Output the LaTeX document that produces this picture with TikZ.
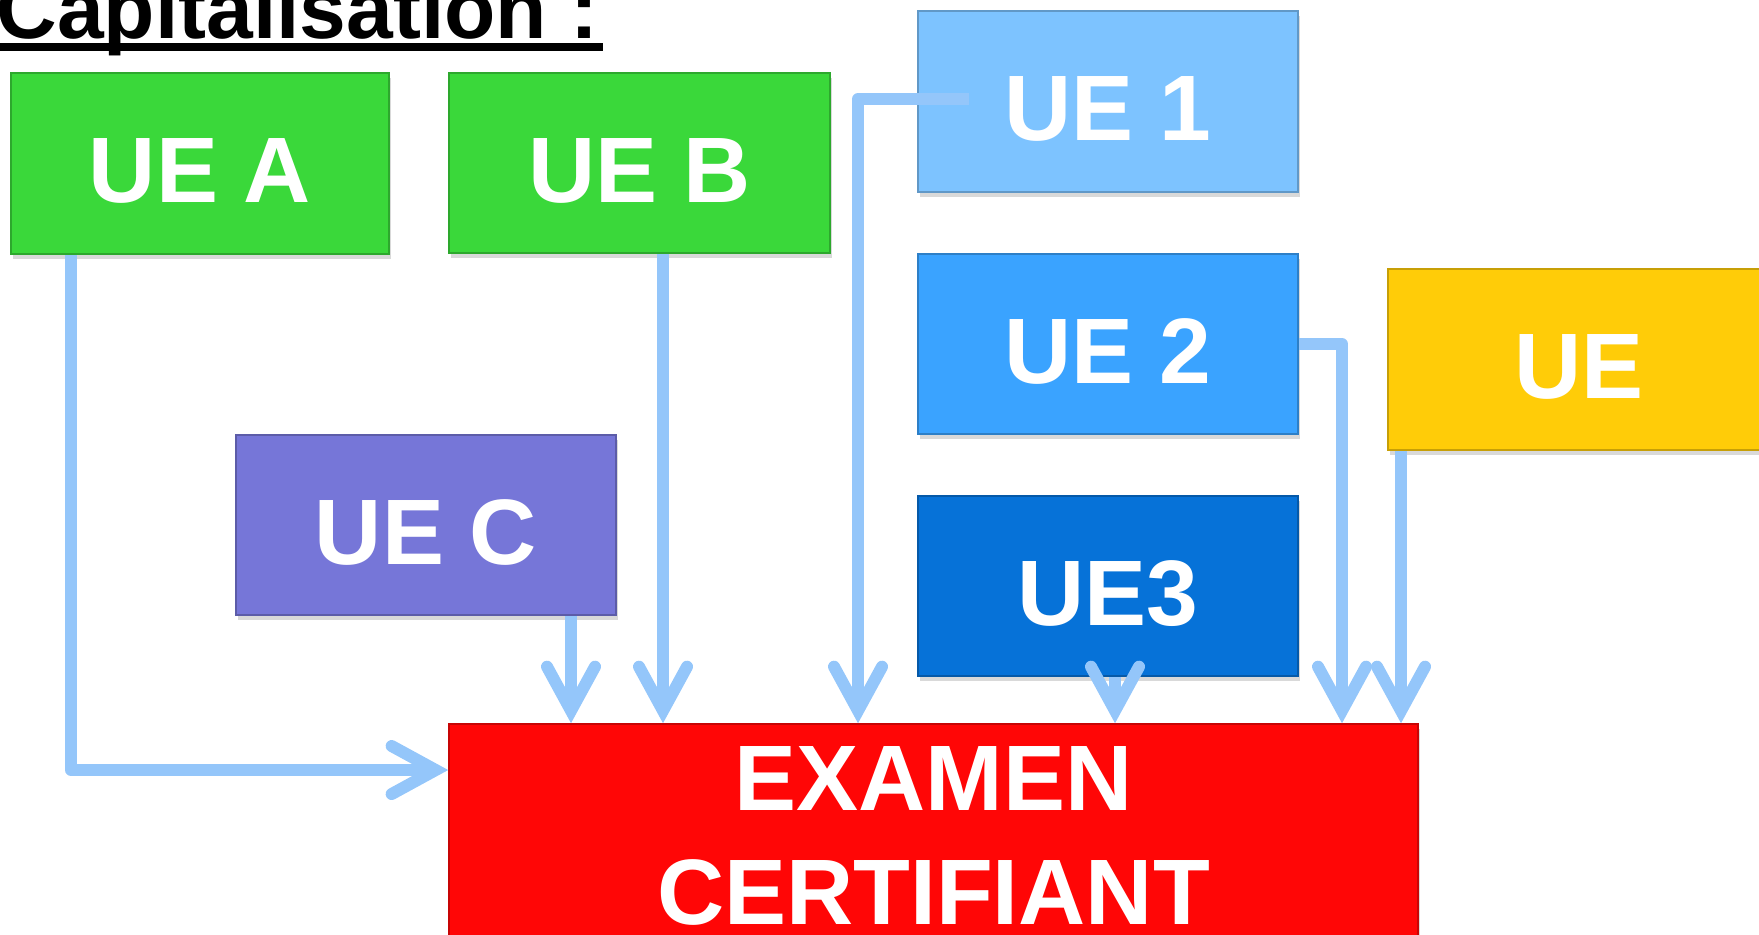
\documentclass[tikz,border=0pt]{standalone}
\usepackage{fontspec}
\setmainfont{Liberation Sans}
\usetikzlibrary{arrows.meta,shadows}
\definecolor{ugreen}{RGB}{58,216,58}
\definecolor{ublueA}{RGB}{125,195,255}
\definecolor{ublueB}{RGB}{58,163,255}
\definecolor{ublueC}{RGB}{6,114,216}
\definecolor{uyellow}{RGB}{255,204,8}
\definecolor{upurple}{RGB}{118,118,216}
\definecolor{ured}{RGB}{255,6,6}
\definecolor{uconn}{RGB}{148,198,250}
\tikzset{
  uebox/.style={rectangle, fill=#1, draw=#1!78!black, line width=0.8pt,
    inner sep=0pt, minimum width=190pt, minimum height=90pt, text=white,
    font=\fontsize{46.5}{57}\selectfont\bfseries, align=center,
    drop shadow={shadow xshift=1pt, shadow yshift=-2.5pt, opacity=0.3}},
  oneline/.style={text height=39pt, text depth=0pt},
  conn/.style={draw=uconn, line width=6pt, line join=round,
    -{Straight Barb[length=22pt, width=24pt, line cap=round, line join=miter]}}
}
\begin{document}
\begin{tikzpicture}[x=0.5pt,y=-0.5pt]
\useasboundingbox (0,0) rectangle (1759,934);
% title
\node[anchor=base west, inner sep=0pt, font=\fontsize{42}{50}\selectfont\bfseries] (title) at (-4,38) {Capitalisation :};
\fill[black] (0,43) rectangle (603,51);
% boxes
\node[uebox=ugreen, oneline, minimum width=189pt, minimum height=90.5pt] (uea) at (200,163.5) {UE A};
\node[uebox=ugreen, oneline, minimum width=190.5pt] (ueb) at (639.5,163) {UE B};
\node[uebox=ublueA, oneline, minimum height=90.5pt] (ue1) at (1108,101.5) {UE 1};
\node[uebox=ublueB, oneline] (ue2) at (1108,344) {UE 2};
\node[uebox=ublueC, oneline] (ue3) at (1108,586) {UE3};
\node[uebox=uyellow, oneline, minimum width=191pt, minimum height=90.5pt] (uey) at (1579,359.5) {UE};
\node[uebox=upurple, oneline] (uec) at (426,525) {UE C};
\node[uebox=ured, minimum width=484.5pt, minimum height=112pt] (exam) at (933.5,836) {EXAMEN\\CERTIFIANT};
% connectors
\draw[conn] ([xshift=-64.5pt]uea.south) |- ([yshift=33pt]exam.west);
\draw[conn] ([xshift=72.5pt]uec.south) -- ([xshift=72.5pt]uec.south |- exam.north);
\draw[conn] ([xshift=11.75pt]ueb.south) -- ([xshift=11.75pt]ueb.south |- exam.north);
\draw[conn] ([xshift=26pt,yshift=1.25pt]ue1.west) -| ([xshift=-37.75pt]exam.north);
\draw[conn] (ue2.east) -| ([xshift=204.25pt]exam.north);
\draw[conn] ([xshift=3.5pt]ue3.south) -- ([xshift=3.5pt]ue3.south |- exam.north);
\draw[conn] ([xshift=-89pt]uey.south) -- ([xshift=-89pt]uey.south |- exam.north);
\end{tikzpicture}
\end{document}
